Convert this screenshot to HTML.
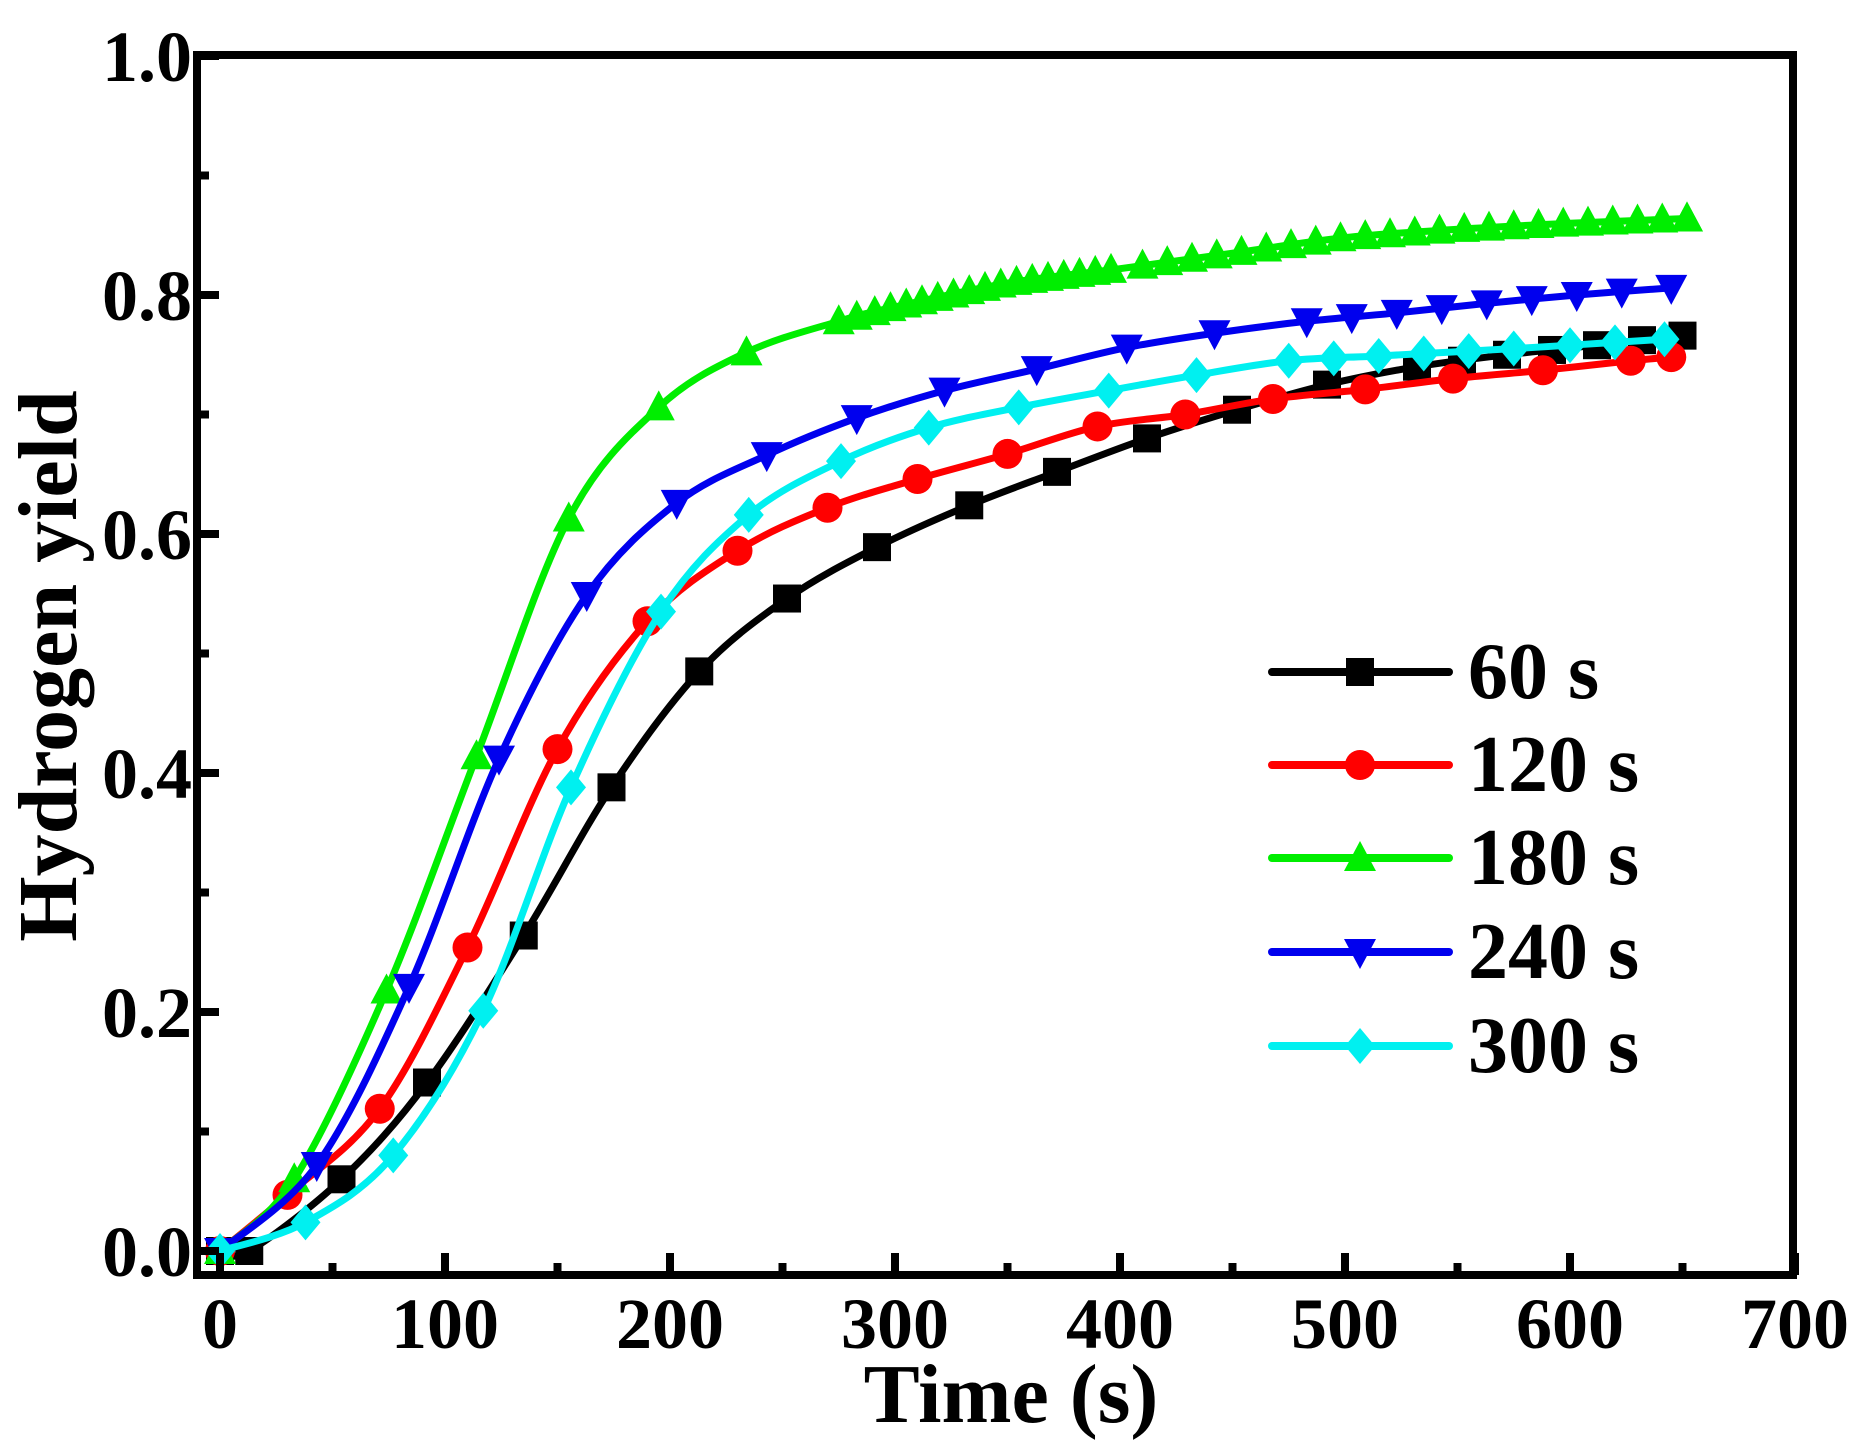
<!DOCTYPE html>
<html><head><meta charset="utf-8"><style>
html,body{margin:0;padding:0;background:#fff;}
svg{display:block;}
text{font-family:"Liberation Serif",serif;font-weight:bold;fill:#000;}
</style></head><body>
<svg id="s" width="1864" height="1450" viewBox="0 0 1864 1450" xmlns="http://www.w3.org/2000/svg">
<rect width="1864" height="1450" fill="#fff"/>
<g id="plot"></g>
<rect x="197" y="55" width="1596" height="1220" fill="none" stroke="#000" stroke-width="8"/>
<g id="ticks" stroke="#000" stroke-width="8"></g>
<g font-size="72" text-anchor="end">
<text x="192" y="1276">0.0</text>
<text x="192" y="1037">0.2</text>
<text x="192" y="798">0.4</text>
<text x="192" y="559">0.6</text>
<text x="192" y="320">0.8</text>
<text x="192" y="81">1.0</text>
</g>
<g font-size="72" text-anchor="middle">
<text x="220" y="1348">0</text>
<text x="445" y="1348">100</text>
<text x="670" y="1348">200</text>
<text x="895" y="1348">300</text>
<text x="1120" y="1348">400</text>
<text x="1345" y="1348">500</text>
<text x="1570" y="1348">600</text>
<text x="1795" y="1348">700</text>
</g>
<text x="1011" y="1422" font-size="84" text-anchor="middle">Time (s)</text>
<text transform="translate(76,666) rotate(-90)" font-size="84" text-anchor="middle">Hydrogen yield</text>
<g id="legend"></g>
<g font-size="80">
<text x="1468" y="698">60 s</text>
<text x="1468" y="791">120 s</text>
<text x="1468" y="884">180 s</text>
<text x="1468" y="978">240 s</text>
<text x="1468" y="1072">300 s</text>
</g>
</svg>
<script>
const NS="http://www.w3.org/2000/svg";
const X=t=>220+2.25*t, Y=v=>1251-1195*v;
function el(tag,attrs,parent){const e=document.createElementNS(NS,tag);for(const k in attrs)e.setAttribute(k,attrs[k]);parent.appendChild(e);return e;}
const tk=document.getElementById('ticks');
for(let i=0;i<=10;i++){const y=Y(i*0.1);const L=i%2?12:22;el('line',{x1:197,x2:197+L,y1:y,y2:y},tk);}
for(let i=0;i<=14;i++){const x=X(i*50);const L=i%2?12:22;el('line',{x1:x,x2:x,y1:1275,y2:1275-L},tk);}
const series=[
{c:'#000',m:'sq',k:[[0,0],[13,0],[54,.06],[92,.141],[135,.264],[174,.388],[213,.485],[252,.546],[292,.589],[333,.624],[372,.652],[412,.68],[452,.704],[492,.725],[532,.74],[572,.75],[612,.758],[650,.766]],
 mk:[0,13,54,92,135,174,213,252,292,333,372,412,452,492,532,552,572,592,612,632,650]},
{c:'#f00',m:'ci',k:[[0,0],[30,.047],[71,.119],[110,.254],[150,.42],[190,.527],[230,.586],[270,.622],[310,.646],[350,.667],[390,.69],[429,.70],[468,.713],[509,.721],[548,.73],[588,.737],[627,.745],[645,.748]],
 mk:[0,30,71,110,150,190,230,270,310,350,390,429,468,509,548,588,627,645]},
{c:'#00ee00',m:'up',k:[[0,0],[33,.06],[74,.218],[114,.414],[155,.613],[195,.706],[234,.752],[275,.778],[300,.79],[350,.81],[400,.822],[450,.835],[500,.848],[550,.855],[600,.86],[652,.864]],
 mk:(()=>{const a=[0,33,74,114,155,195,234,275,283,291];for(let t=298;t<=400;t+=7)a.push(t);for(let t=410;t<=652;t+=11)a.push(t);a.push(652);return a;})()},
{c:'#0000ee',m:'dn',k:[[0,0],[43,.072],[84,.221],[124,.412],[163,.549],[203,.626],[243,.666],[283,.697],[322,.72],[363,.738],[403,.756],[442,.768],[483,.778],[523,.785],[563,.793],[603,.8],[645,.806]],
 mk:[0,43,84,124,163,203,243,283,322,363,403,442,483,503,523,543,563,583,603,623,645]},
{c:'#00f0f0',m:'di',k:[[0,0],[38,.024],[77,.08],[117,.201],[156,.388],[196,.535],[235,.616],[276,.661],[315,.689],[355,.706],[395,.72],[434,.733],[475,.745],[515,.749],[555,.753],[600,.758],[642,.763]],
 mk:[0,38,77,117,156,196,235,276,315,355,395,434,475,495,515,535,555,575,600,620,642]}
];
function interp(k,t){for(let i=0;i<k.length-1;i++){if(t<=k[i+1][0]){const f=(t-k[i][0])/(k[i+1][0]-k[i][0]);return k[i][1]+f*(k[i+1][1]-k[i][1]);}}return k[k.length-1][1];}
function path(k){const p=k.map(a=>[X(a[0]),Y(a[1])]);let d=`M${p[0][0]},${p[0][1]}`;for(let i=0;i<p.length-1;i++){const p0=p[Math.max(0,i-1)],p1=p[i],p2=p[i+1],p3=p[Math.min(p.length-1,i+2)];d+=` C${p1[0]+(p2[0]-p0[0])/6},${p1[1]+(p2[1]-p0[1])/6} ${p2[0]-(p3[0]-p1[0])/6},${p2[1]-(p3[1]-p1[1])/6} ${p2[0]},${p2[1]}`;}return d;}
function marker(m,x,y,c,g){const r=15;
 if(m=='sq')el('rect',{x:x-r+1,y:y-r+1,width:2*r-2,height:2*r-2,fill:c},g);
 else if(m=='ci')el('circle',{cx:x,cy:y,r:r,fill:c},g);
 else if(m=='up')el('polygon',{points:`${x},${y-r-2} ${x+r+1},${y+r-2} ${x-r-1},${y+r-2}`,fill:c},g);
 else if(m=='dn')el('polygon',{points:`${x},${y+r+2} ${x+r+1},${y-r+2} ${x-r-1},${y-r+2}`,fill:c},g);
 else el('polygon',{points:`${x},${y-r-3} ${x+r},${y} ${x},${y+r+3} ${x-r},${y}`,fill:c},g);}
const g=document.getElementById('plot');
series.forEach(s=>{el('path',{d:path(s.k),fill:'none',stroke:s.c,'stroke-width':7,'stroke-linejoin':'round'},g);
 s.mk.forEach(t=>marker(s.m,X(t),Y(interp(s.k,t)),s.c,g));});
const lg=document.getElementById('legend');const ly=[672,765,858,952,1046];
series.forEach((s,i)=>{el('line',{x1:1272,x2:1449,y1:ly[i],y2:ly[i],stroke:s.c,'stroke-width':8,'stroke-linecap':'round'},lg);marker(s.m,1360,ly[i],s.c,lg);});
</script>
</body></html>
